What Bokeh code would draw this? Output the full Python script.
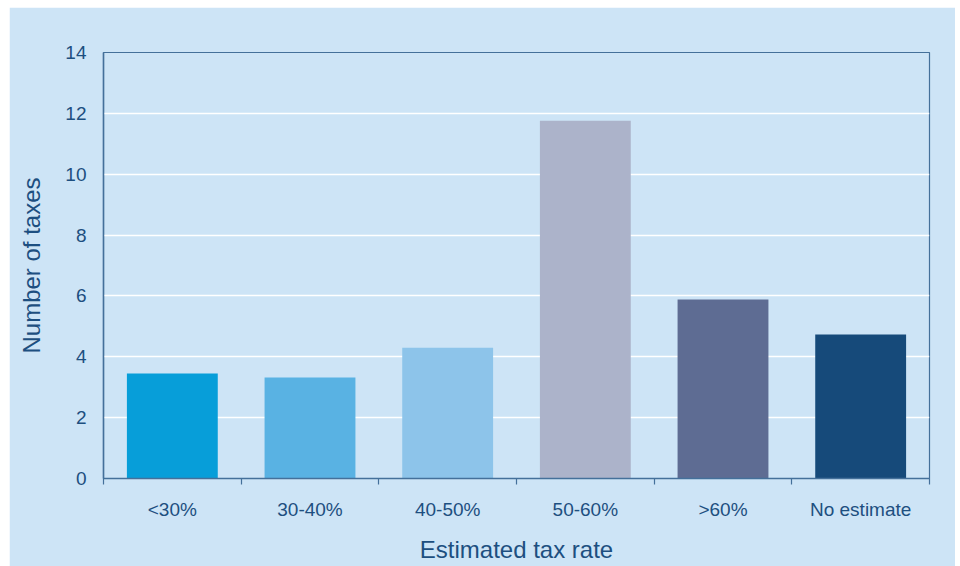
from bokeh.plotting import figure
from bokeh.models import Range1d, FixedTicker, ColumnDataSource
from bokeh.embed import file_html
from bokeh.resources import INLINE

categories = ["<30%", "30-40%", "40-50%", "50-60%", ">60%", "No estimate"]
values = [3.45, 3.32, 4.3, 11.76, 5.88, 4.73]
colors = ["#079ed9", "#59b2e3", "#8dc4ea", "#acb3ca", "#5e6c93", "#164a7a"]
y_ticks = [0, 2, 4, 6, 8, 10, 12, 14]

BG = "#cde4f6"
TXT = "#1d4f80"
AX = "#44709a"
FONT = "Liberation Sans"

centers = [i + 0.5 for i in range(len(categories))]
bounds = [i for i in range(len(categories) + 1)]
src = ColumnDataSource(dict(x=centers, top=values, color=colors, cat=categories))

p = figure(width=946, height=559, output_backend="svg", toolbar_location=None,
           x_range=Range1d(0, len(categories)), y_range=Range1d(0, 14))
p.margin = (7, 5, 0, 9)
p.min_border_left = 94
p.min_border_right = 26
p.min_border_top = 45
p.min_border_bottom = 88
p.background_fill_color = BG
p.border_fill_color = BG
p.outline_line_color = AX
p.outline_line_width = 1.2

p.vbar(x="x", top="top", width=0.66, bottom=0, color="color", line_color=None, source=src)

p.xgrid.visible = False
p.ygrid.grid_line_color = "white"
p.ygrid.grid_line_width = 1.5
p.ygrid.ticker = FixedTicker(ticks=y_ticks)

xa = p.xaxis[0]
xa.ticker = FixedTicker(ticks=centers, minor_ticks=bounds)
xa.major_label_overrides = {c: cat for c, cat in zip(centers, categories)}
xa.major_tick_line_color = None
xa.major_tick_out = 0
xa.major_tick_in = 0
xa.minor_tick_line_color = AX
xa.minor_tick_in = 0
xa.minor_tick_out = 6
xa.minor_tick_line_width = 1.2
xa.axis_line_color = AX
xa.axis_line_width = 1.5
xa.major_label_text_font = FONT
xa.major_label_text_font_size = "19px"
xa.major_label_text_color = TXT
xa.major_label_standoff = 14
xa.axis_label = "Estimated tax rate"
xa.axis_label_text_font = FONT
xa.axis_label_text_font_size = "24px"
xa.axis_label_text_font_style = "normal"
xa.axis_label_text_color = TXT
xa.axis_label_standoff = 13

ya = p.yaxis[0]
ya.ticker = FixedTicker(ticks=y_ticks)
ya.major_tick_line_color = None
ya.major_tick_out = 0
ya.major_tick_in = 0
ya.minor_tick_line_color = None
ya.axis_line_color = AX
ya.axis_line_width = 1.5
ya.major_label_text_font = FONT
ya.major_label_text_font_size = "19px"
ya.major_label_text_color = TXT
ya.major_label_standoff = 17
ya.axis_label = "Number of taxes"
ya.axis_label_text_font = FONT
ya.axis_label_text_font_size = "24px"
ya.axis_label_text_font_style = "normal"
ya.axis_label_text_color = TXT
ya.axis_label_standoff = 17

open("out.html", "w").write(file_html(p, INLINE))
